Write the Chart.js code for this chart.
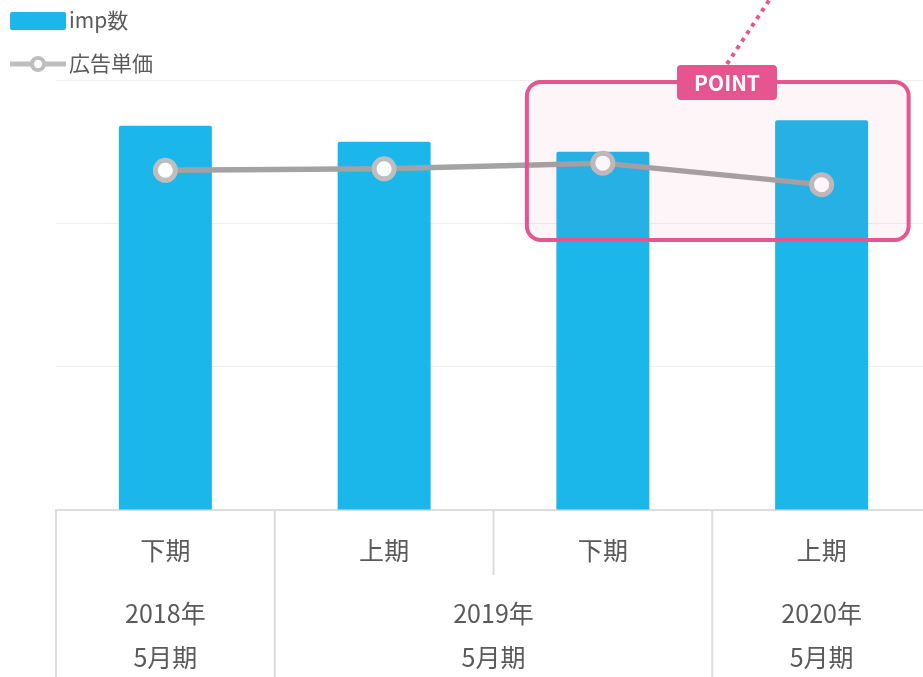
<!DOCTYPE html>
<html>
<head>
<meta charset="utf-8">
<script src="https://cdn.jsdelivr.net/npm/chart.js@4/dist/chart.umd.min.js"></script>
<style>
  html, body { margin: 0; padding: 0; background: #fff; overflow: hidden; }
  #chart_imp { display: block; }
</style>
</head>
<body>
<canvas id="chart_imp" width="946" height="677"></canvas>
<script>
// 期 / 年度 / 決算月
var halves = ['下期', '上期', '下期', '上期']
var fiscalYears = ['2018年', '2019年', '2019年', '2020年']
var closingMonth = '5月期'
var impValues = [268, 257, 250, 272]
var unitPrices = [237, 238, 242, 227]
var seriesNames = ['imp数', '広告単価']
var cores = ['#1bb6ea', '#a3a3a3', '#bebebe']
var pink = '#e5558f'
var textColor = '#5a5a5a'
var fontFamily = '"Noto Sans CJK JP", "Noto Sans", sans-serif'

function roundRect(c, x, y, w, h, r) {
    c.beginPath();
    c.moveTo(x + r, y);
    c.arcTo(x + w, y, x + w, y + h, r);
    c.arcTo(x + w, y + h, x, y + h, r);
    c.arcTo(x, y + h, x, y, r);
    c.arcTo(x, y, x + w, y, r);
    c.closePath();
}

// legend drawn by hand (box + line-with-dot)
var legendPlugin = {
    id: 'customLegend',
    afterDraw: function(chart) {
        var c = chart.ctx;
        c.save();
        c.fillStyle = cores[0];
        roundRect(c, 10, 12, 56, 18, 2);
        c.fill();
        c.strokeStyle = cores[2];
        c.lineWidth = 5;
        c.beginPath(); c.moveTo(10, 64); c.lineTo(66, 64); c.stroke();
        c.beginPath(); c.arc(38, 64, 6, 0, Math.PI * 2);
        c.fillStyle = '#fff'; c.fill();
        c.lineWidth = 4; c.stroke();
        c.fillStyle = textColor;
        c.font = '21px ' + fontFamily;
        c.textBaseline = 'middle';
        c.fillText(chart.data.datasets[0].label, 69, 20);
        c.fillText(chart.data.datasets[1].label, 69, 63);
        c.restore();
    }
}

// two-row category axis: 期 on top, 年度 below, grouped
var axisPlugin = {
    id: 'groupAxis',
    afterDraw: function(chart) {
        var c = chart.ctx;
        var x = chart.scales.x;
        var base = chart.chartArea.bottom;
        var half = (x.getPixelForValue(1) - x.getPixelForValue(0)) / 2;
        c.save();
        c.strokeStyle = '#dddddd';
        c.lineWidth = 2;
        c.fillStyle = textColor;
        c.font = '25px ' + fontFamily;
        c.textAlign = 'center';
        c.textBaseline = 'middle';
        for (var i = 0; i < halves.length; i++) {
            var px = x.getPixelForValue(i);
            c.fillText(halves[i], px, base + 40);
            var left = px - half;
            var sameGroup = i > 0 && fiscalYears[i] === fiscalYears[i - 1];
            c.beginPath();
            c.moveTo(left, base);
            c.lineTo(left, sameGroup ? base + 65 : chart.height);
            c.stroke();
        }
        var start = 0;
        for (var j = 1; j <= fiscalYears.length; j++) {
            if (j === fiscalYears.length || fiscalYears[j] !== fiscalYears[start]) {
                var cx = (x.getPixelForValue(start) + x.getPixelForValue(j - 1)) / 2;
                c.fillText(fiscalYears[start], cx, base + 103);
                c.fillText(closingMonth, cx, base + 147);
                start = j;
            }
        }
        c.restore();
    }
}

// POINT callout over the last two periods
var pointPlugin = {
    id: 'pointBox',
    afterDatasetsDraw: function(chart) {
        var c = chart.ctx;
        var x = chart.scales.x;
        var top = chart.chartArea.top + 2;
        var left = x.getPixelForValue(2) - 76;
        var right = x.getPixelForValue(3) + 87;
        c.save();
        roundRect(c, left, top, right - left, 158, 14);
        c.fillStyle = 'rgba(229, 85, 143, 0.06)';
        c.fill();
        c.strokeStyle = pink;
        c.lineWidth = 4;
        c.stroke();

        var mid = 727;
        c.setLineDash([4, 5]);
        c.lineWidth = 4;
        c.beginPath(); c.moveTo(mid, 64); c.lineTo(mid + 45, -4); c.stroke();
        c.setLineDash([]);

        roundRect(c, mid - 50, top - 17, 100, 35, 4);
        c.fillStyle = pink;
        c.fill();
        c.fillStyle = '#fff';
        c.font = 'bold 21px ' + fontFamily;
        c.textAlign = 'center';
        c.textBaseline = 'middle';
        c.fillText('POINT', mid, top + 1);
        c.restore();
    }
}

var ctx = document.getElementById('chart_imp');

var chartBar = new Chart(ctx, {
    data: {
        labels: halves,
        datasets: [
            {
                label: seriesNames[0],
                type: 'bar',
                order: 1,
                data: impValues,
                backgroundColor: cores[0],
                categoryPercentage: 1,
                barPercentage: 0.425,
                borderRadius: { topLeft: 2, topRight: 2 },
                borderSkipped: 'bottom'
            },
            {
                label: seriesNames[1],
                type: 'line',
                order: 0,
                data: unitPrices,
                borderColor: cores[1],
                borderWidth: 5.5,
                pointRadius: 10,
                pointBorderWidth: 5,
                pointBackgroundColor: '#fff',
                pointBorderColor: cores[2],
                tension: 0,
                fill: false
            }
        ]
    },
    options: {
        responsive: false,
        animation: false,
        layout: { padding: { top: 80, left: 56, right: 0, bottom: 0 } },
        plugins: {
            legend: { display: false },
            tooltip: { enabled: false }
        },
        scales: {
            y: {
                display: true,
                min: 0,
                max: 300,
                ticks: { display: false, stepSize: 100 },
                grid: { color: '#eeeeee', lineWidth: 1, drawTicks: false },
                border: { display: false },
                afterFit: function(s) { s.width = 0; }
            },
            x: {
                offset: true,
                ticks: { display: false },
                grid: { display: false },
                border: { display: true, color: '#dddddd', width: 2 },
                afterFit: function(s) { s.height = 167; }
            }
        }
    },
    plugins: [legendPlugin, axisPlugin, pointPlugin]
});
</script>
</body>
</html>
